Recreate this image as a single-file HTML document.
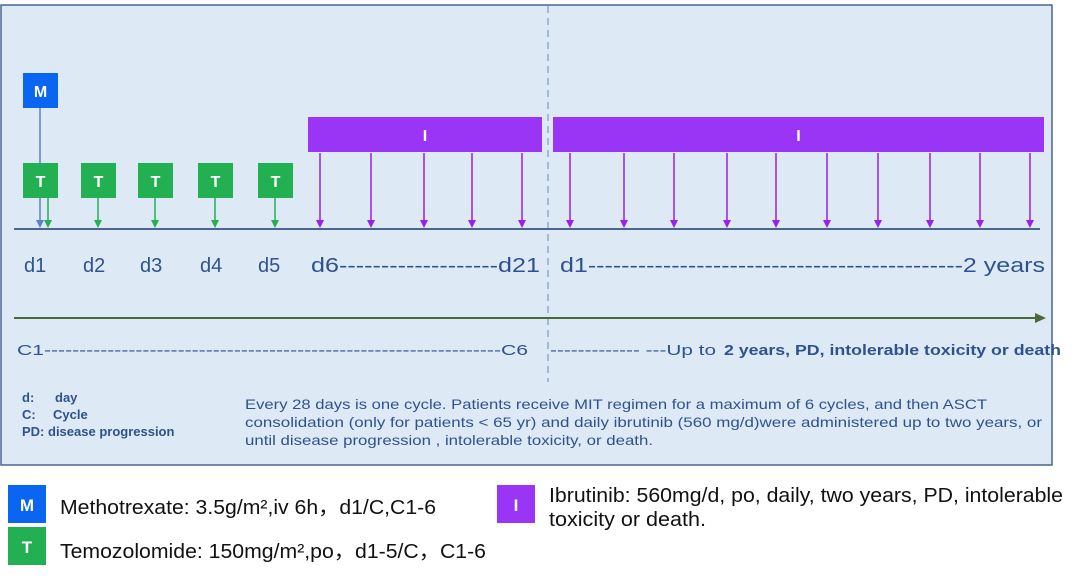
<!DOCTYPE html>
<html><head><meta charset="utf-8"><style>
body{margin:0;background:#fff;width:1080px;height:579px;overflow:hidden}
svg{display:block;font-family:"Liberation Sans",sans-serif}
</style></head><body>
<svg id="c" width="1080" height="579" viewBox="0 0 1080 579">
<rect x="1" y="5" width="1051" height="460" fill="#dde9f5" stroke="#4a6590" stroke-width="1.5"/>
<line x1="548" y1="6" x2="548" y2="382" stroke="#8fa9d0" stroke-width="1.5" stroke-dasharray="7,5"/>
<line x1="14" y1="229" x2="1040" y2="229" stroke="#4a6590" stroke-width="2"/>
<g id="marks"></g>
<g fill="#2f528f" font-size="20">
<text x="24" y="272">d1</text><text x="83" y="272">d2</text><text x="140" y="272">d3</text><text x="200" y="272">d4</text><text x="258" y="272">d5</text>
<text x="311" y="272" textLength="229" lengthAdjust="spacingAndGlyphs">d6-------------------d21</text>
<text x="560" y="272" textLength="485" lengthAdjust="spacingAndGlyphs">d1---------------------------------------------2 years</text>
</g>
<line x1="14" y1="318" x2="1036" y2="318" stroke="#4a6a3a" stroke-width="2"/>
<path d="M1046,318 L1035,313 L1035,323z" fill="#4a6a3a"/>
<g fill="#2f528f" font-size="15">
<text x="17" y="355" textLength="511" lengthAdjust="spacingAndGlyphs">C1-----------------------------------------------------------------C6</text>
<text x="550" y="355" textLength="166" lengthAdjust="spacingAndGlyphs">------------- ---Up to</text>
<text x="724" y="355" font-weight="bold" textLength="337" lengthAdjust="spacingAndGlyphs">2 years, PD, intolerable toxicity or death</text>
</g>
<g fill="#2f528f" font-size="13" font-weight="bold">
<text x="22" y="402">d:</text><text x="55" y="402">day</text>
<text x="22" y="419">C:</text><text x="53" y="419">Cycle</text>
<text x="22" y="436">PD:  disease progression</text>
</g>
<g fill="#2f528f" font-size="14">
<text x="245" y="409" textLength="742" lengthAdjust="spacingAndGlyphs">Every 28 days is one cycle. Patients receive MIT regimen for a maximum of 6 cycles, and then ASCT</text>
<text x="245" y="427" textLength="797" lengthAdjust="spacingAndGlyphs">consolidation (only for patients &lt; 65 yr) and daily ibrutinib (560 mg/d)were administered up to two years, or</text>
<text x="245" y="445" textLength="408" lengthAdjust="spacingAndGlyphs">until disease progression , intolerable toxicity, or death.</text>
</g>
<g>
<rect x="8" y="485" width="38" height="38" fill="#0a66f0"/><text x="27" y="511" fill="#fff" font-size="17" font-weight="bold" text-anchor="middle">M</text>
<text x="60" y="514" font-size="20" fill="#111" textLength="376" lengthAdjust="spacingAndGlyphs">Methotrexate: 3.5g/m²,iv 6h，d1/C,C1-6</text>
</g>
<g>
<rect x="8" y="527" width="38" height="38" fill="#22b052"/><text x="27" y="553" fill="#fff" font-size="17" font-weight="bold" text-anchor="middle">T</text>
<text x="60" y="558" font-size="20" fill="#111" textLength="426" lengthAdjust="spacingAndGlyphs">Temozolomide: 150mg/m²,po，d1-5/C，C1-6</text>
</g>
<g>
<rect x="497" y="485" width="38" height="38" fill="#9a35f5"/><text x="516" y="511" fill="#fff" font-size="17" font-weight="bold" text-anchor="middle">I</text>
<text x="549" y="502" font-size="20" fill="#111" textLength="514" lengthAdjust="spacingAndGlyphs">Ibrutinib: 560mg/d, po, daily, two years, PD, intolerable</text>
<text x="549" y="526" font-size="20" fill="#111" textLength="157" lengthAdjust="spacingAndGlyphs">toxicity or death.</text>
</g>
</svg>
<script>
const tBoxX=[40,98,155,215,275];
const tArrowX=[48,98,155,215,275];
const iArrows1=[320,371,424,472,522];
const iArrows2=[570,624,674,727,776,827,878,930,980,1030];
const iBars=[[308,542],[553,1044]];
const NS="http://www.w3.org/2000/svg";
const g=document.getElementById('marks');
function el(t,a){const e=document.createElementNS(NS,t);for(const k in a)e.setAttribute(k,a[k]);g.appendChild(e);return e;}
function arrow(x,y1,col){
  const l=el('line',{x1:x,y1:y1,x2:x,y2:222,stroke:col,'stroke-width':1.5});
  
  
  el('path',{d:`M${x-4},220 L${x+4},220 L${x},228z`,fill:col});
}
arrow(40,108,'#5b82c8');
const m=el('rect',{x:23,y:73,width:35,height:35,fill:'#0a66f0'});


el('text',{x:40.5,y:97,fill:'#fff','font-size':16,'font-weight':'bold','text-anchor':'middle'}).textContent='M';
tArrowX.forEach(x=>arrow(x,198,'#22b052'));
tBoxX.forEach(x=>{
  const r=el('rect',{x:x-17,y:163,width:35,height:35,fill:'#22b052'});
  
  
  el('text',{x:x+0.5,y:187,fill:'#fff','font-size':16,'font-weight':'bold','text-anchor':'middle'}).textContent='T';
});
iArrows1.concat(iArrows2).forEach(x=>arrow(x,153,'#9a1ef0'));
iBars.forEach(b=>{
  const r=el('rect',{x:b[0],y:117,width:b[1]-b[0],height:35,fill:'#9a35f5'});
  
  
  el('text',{x:(b[0]+b[1])/2,y:141,fill:'#fff','font-size':16,'font-weight':'bold','text-anchor':'middle'}).textContent='I';
});
</script>
</body></html>
